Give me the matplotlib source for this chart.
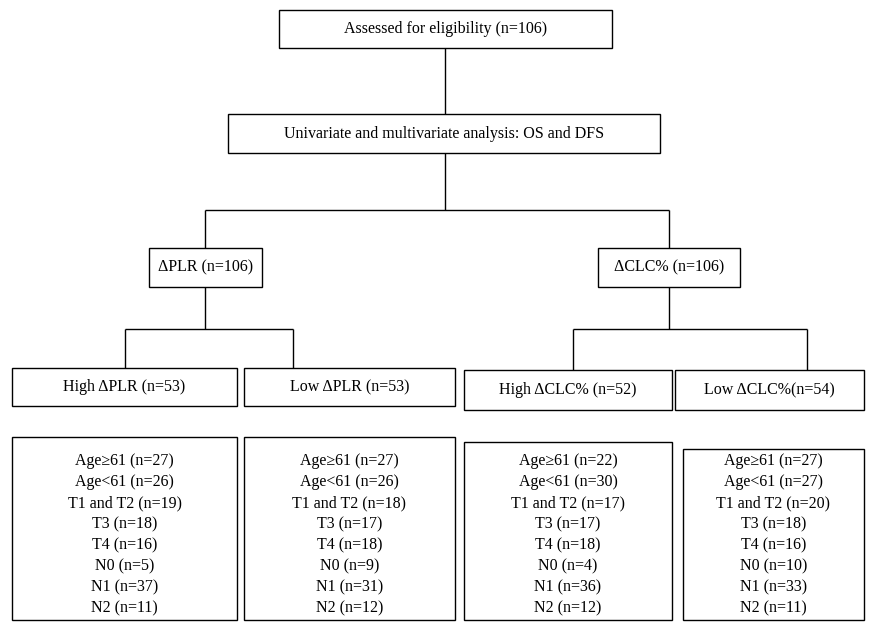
import matplotlib.pyplot as plt
from matplotlib.patches import Rectangle

plt.rcParams["font.family"] = ["Liberation Serif", "DejaVu Serif"]

# ── data ─────────────────────────────────────────────
top_label = "Assessed for eligibility (n=106)"
analysis_label = "Univariate and multivariate analysis: OS and DFS"
marker_labels = ["ΔPLR (n=106)", "ΔCLC% (n=106)"]
group_labels = ["High ΔPLR (n=53)", "Low ΔPLR (n=53)",
                "High ΔCLC% (n=52)", "Low ΔCLC%(n=54)"]
detail_names = ["Age≥61", "Age<61", "T1 and T2", "T3", "T4", "N0", "N1", "N2"]
detail_counts = [
    [27, 26, 19, 18, 16, 5, 37, 11],
    [27, 26, 18, 17, 18, 9, 31, 12],
    [22, 30, 17, 17, 18, 4, 36, 12],
    [27, 27, 20, 18, 16, 10, 33, 11],
]

# ── layout (pixels) ──────────────────────────────────
FS = 11.5
LW = 1.0
fig = plt.figure(figsize=(8.69, 6.29), dpi=100)
ax = fig.add_axes([0, 0, 1, 1])
ax.set_xlim(0, 869)
ax.set_ylim(629, 0)
ax.axis("off")


def box(x0, y0, x1, y1, text=None):
    ax.add_patch(Rectangle((x0, y0), x1 - x0, y1 - y0, fill=False,
                           edgecolor="black", linewidth=LW))
    if text:
        ax.text((x0 + x1) / 2, (y0 + y1) / 2, text, ha="center",
                va="center", fontsize=FS)


def line(xs, ys):
    ax.plot(xs, ys, color="black", linewidth=LW, solid_capstyle="butt")


box(279, 10, 612, 48, top_label)
line([445, 445], [48, 114])
box(228, 114, 660, 153, analysis_label)
line([445, 445], [153, 210])
line([205, 669], [210, 210])
line([205, 205], [210, 248])
line([669, 669], [210, 248])

box(149, 248, 262, 287, marker_labels[0])
box(598, 248, 740, 287, marker_labels[1])

line([205, 205], [287, 329]); line([125, 293], [329, 329])
line([125, 125], [329, 368]); line([293, 293], [329, 368])
line([669, 669], [287, 329]); line([573, 807], [329, 329])
line([573, 573], [329, 370]); line([807, 807], [329, 370])

group_boxes = [(12, 368, 237, 406), (244, 368, 455, 406),
               (464, 370, 672, 410), (675, 370, 864, 410)]
for (x0, y0, x1, y1), lab in zip(group_boxes, group_labels):
    box(x0, y0, x1, y1, lab)

detail_boxes = [(12, 437, 237, 620), (244, 437, 455, 620),
                (464, 442, 672, 620), (683, 449, 864, 620)]
for (x0, y0, x1, y1), counts in zip(detail_boxes, detail_counts):
    box(x0, y0, x1, y1)
    lines = [f"{n} (n={c})" for n, c in zip(detail_names, counts)]
    ax.text((x0 + x1) / 2, 535, "\n".join(lines), ha="center",
            va="center", fontsize=FS, linespacing=1.42)

fig.savefig("out.png", dpi=100)
